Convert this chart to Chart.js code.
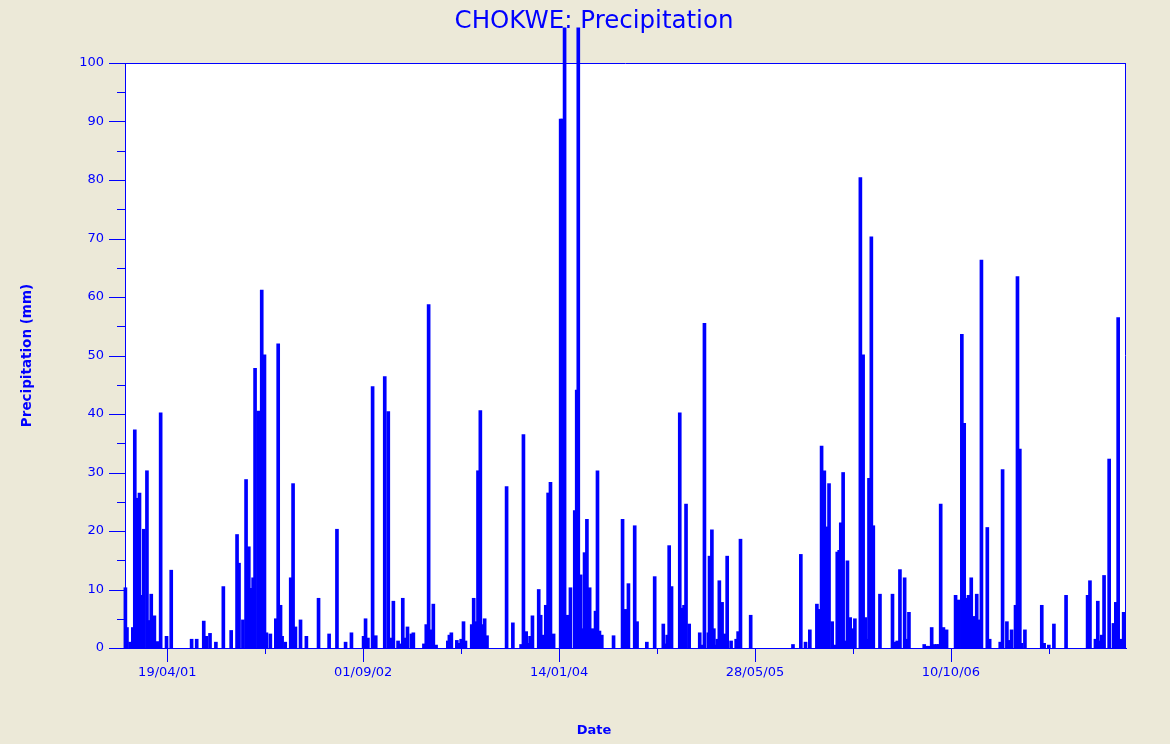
<!DOCTYPE html>
<html>
<head>
<meta charset="utf-8">
<script src="https://cdn.jsdelivr.net/npm/chart.js@4.4.0/dist/chart.umd.min.js"></script>
<style>
html, body { margin: 0; padding: 0; background: #ECE9D8; }
</style>
</head>
<body>
<canvas id="graf" width="1170" height="744"></canvas>
<script>
// dias contados a partir de 01/01/2001 (dia 0)
var dias = [1,5,13,20,25,31,37,42,48,56,61,67,75,83,91,106,118,170,183,201,208,217,232,251,271,286,291,301,309,316,323,327,332,340,
  349,356,361,371,385,391,397,401,409,423,429,435,448,463,494,521,541,563,578,609,614,620,632,640,
  663,672,678,685,697,703,709,716,721,731,736,763,769,775,781,787,794,824,828,833,847,853,858,864,869,885,890,896,901,907,913,918,924,
  974,990,1011,1017,1024,1029,1034,1040,1056,1061,1067,1074,1080,1086,1094,1112,1116,1122,1130,1137,1148,1153,1157,1163,1169,1173,1179,1186,1193,1201,1206,1211,1217,1247,1270,1278,1285,
  1301,1307,1332,1352,1374,1380,1384,1389,1395,1416,1422,1427,1432,1440,1467,1472,1479,1489,1492,1498,1503,1508,1512,1517,1524,1530,1537,1547,1560,1565,1571,1597,
  1705,1725,1737,1748,1766,1771,1778,1785,1791,1797,1805,1812,1818,1823,1827,1833,1838,1844,1851,1857,1863,1877,1884,1890,1895,1899,1905,1910,
  1927,1959,1965,1971,1978,1990,1996,2001,2040,2046,2052,2059,2066,2072,2077,2082,2089,2097,2120,2128,2136,2142,2147,2153,2160,2167,2174,2180,2186,2201,2207,2234,2240,
  2251,2257,2263,2273,2278,2284,2288,2297,2340,2346,2358,2371,2402,2457,2463,2477,2483,2489,2493,2499,2512,2523,2529,2535,2541,2549];
// precipitacao (mm)
var chuva = [10.3,3.5,1,3.5,37.3,25.6,26.5,9,20.3,30.3,4.7,9.2,5.5,1.1,40.2,2,13.3,1.5,1.5,4.6,2,2.5,1,10.5,3,19.4,14.5,4.8,28.8,17.3,10.2,12,47.8,40.5,
  61.2,50.1,2.6,2.4,5,52,7.3,2,1,12,28.1,3.6,4.8,2,8.5,2.4,20.3,1,2.6,2,5,1.7,44.7,2.1,
  46.4,40.4,1.7,8,1.2,0.7,8.5,1.7,3.6,2.4,2.6,0.7,4,58.7,3.1,7.5,0.5,1.2,2.2,2.6,1.3,0.8,1.5,4.5,1.2,4,8.5,4.5,30.3,40.6,4,5,2.1,
  27.6,4.3,0.6,36.5,2.8,0.8,2,5.5,10,5.6,2.2,7.3,26.5,28.3,2.4,90.4,90.4,106,5.6,10.3,23.5,44.1,106,12.5,3.3,16.3,22,10.3,3.3,6.3,30.3,2.9,2.2,2.1,22,6.6,11,
  20.9,4.5,1,12.2,4.1,0.7,2.2,17.5,10.5,40.2,6.8,7.3,24.6,4.1,2.6,0.5,55.5,2.6,15.7,20.2,3.3,0.5,1.5,11.5,7.8,2.4,15.7,1.2,1.5,2.8,18.6,5.6,
  0.6,16,1,3.1,7.5,6.6,34.5,30.3,20.7,28.1,4.5,0.5,16.4,16.7,21.4,30,1.2,14.9,5.2,3.3,5,80.4,50.1,5.2,1.5,29,70.3,20.9,
  9.2,9.2,1,1.2,13.4,12,1.5,6.1,0.6,0.3,0.3,3.5,0.6,0.6,0.6,24.6,3.5,3.1,9,8.2,53.6,38.4,8.5,9,12,5.4,9.2,4.8,66.3,20.6,1.5,1,30.5,
  4.5,1.3,3.1,7.3,63.5,34,0.8,3.1,7.3,0.8,0.5,4.1,9,9,11.5,1.5,8,1.2,2.2,12.4,32.3,4.2,7.8,56.5,1.5,6.1];

// marcas do eixo x (principais com texto, secundarias sem)
var diasMarcas = [108, 608, 1108, 1608, 2108];
var textoMarcas = ['19/04/01', '01/09/02', '14/01/04', '28/05/05', '10/10/06'];
var diasMarcasMenores = [358, 858, 1358, 1858, 2358];

var titulo = 'CHOKWE: Precipitation';
var tituloX = 'Date';
var tituloY = 'Precipitation (mm)';

var azul = '#0000FF';
var fonte = 'DejaVu Sans';

var pontos = dias.map(function(d, i) { return { x: d, y: chuva[i] }; });

//fundo bege, area branca, titulos, moldura e tracinhos dos eixos
var moldura = {
  id: 'moldura',
  beforeDraw: function(chart) {
    var c = chart.ctx, a = chart.chartArea;
    c.save();
    c.fillStyle = '#ECE9D8';
    c.fillRect(0, 0, chart.width, chart.height);
    c.fillStyle = '#FFFFFF';
    c.fillRect(a.left, a.top, a.right - a.left, a.bottom - a.top);
    c.restore();
  },
  beforeDatasetsDraw: function(chart) {
    var c = chart.ctx;
    c.save();
    c.fillStyle = azul;
    c.textAlign = 'center';
    c.textBaseline = 'middle';
    c.font = '24.5px "' + fonte + '"';
    c.fillText(titulo, 594, 22);
    c.font = 'bold 13px "' + fonte + '"';
    c.fillText(tituloX, 594, 731);
    c.restore();
  },
  afterDraw: function(chart) {
    var c = chart.ctx, a = chart.chartArea;
    var sx = chart.scales.x, sy = chart.scales.y;
    c.save();
    c.strokeStyle = azul;
    c.lineWidth = 1;
    c.beginPath();
    c.moveTo(a.left, a.top + 0.5); c.lineTo(a.right, a.top + 0.5);
    c.moveTo(a.right - 0.5, a.top); c.lineTo(a.right - 0.5, a.bottom);
    for (var v = 0; v <= 100; v += 5) {
      var y = Math.round(sy.getPixelForValue(v)) + 0.5;
      var len = (v % 10 === 0) ? 16 : 8;
      c.moveTo(a.left - len, y); c.lineTo(a.left, y);
    }
    diasMarcas.forEach(function(d) {
      var x = Math.round(sx.getPixelForValue(d)) + 0.5;
      c.moveTo(x, a.bottom); c.lineTo(x, a.bottom + 14);
    });
    diasMarcasMenores.forEach(function(d) {
      var x = Math.round(sx.getPixelForValue(d)) + 0.5;
      c.moveTo(x, a.bottom); c.lineTo(x, a.bottom + 6);
    });
    c.stroke();
    c.restore();
  }
};

var ctx = document.getElementById('graf');
var graf = new Chart(ctx, {
  type: 'bar',
  data: {
    datasets: [{
      data: pontos,
      backgroundColor: azul,
      borderWidth: 0,
      barThickness: 3,
      clip: false
    }]
  },
  options: {
    responsive: false,
    animation: false,
    layout: { padding: { left: 0, right: 44, top: 63, bottom: 0 } },
    plugins: {
      legend: { display: false },
      tooltip: { enabled: false },
      title: { display: false }
    },
    scales: {
      x: {
        type: 'linear',
        min: 0,
        max: 2555,
        offset: false,
        grid: { display: false, drawTicks: false },
        border: { display: true, color: azul, width: 1 },
        afterBuildTicks: function(s) {
          s.ticks = diasMarcas.map(function(d) { return { value: d }; });
        },
        afterFit: function(s) { s.height = 96; },
        ticks: {
          color: azul,
          font: { family: fonte, size: 13 },
          padding: 17,
          autoSkip: false,
          maxRotation: 0,
          callback: function(value) {
            var i = diasMarcas.indexOf(value);
            return i >= 0 ? textoMarcas[i] : '';
          }
        }
      },
      y: {
        min: 0,
        max: 100,
        grid: { display: false, drawTicks: false },
        border: { display: true, color: azul, width: 1 },
        afterFit: function(s) { s.width = 125; },
        ticks: {
          stepSize: 10,
          color: azul,
          font: { family: fonte, size: 13 },
          padding: 21
        },
        title: {
          display: true,
          text: tituloY,
          color: azul,
          font: { family: fonte, size: 13.5, weight: 'bold' },
          padding: { top: 19, bottom: 0 }
        }
      }
    }
  },
  plugins: [moldura]
});
</script>
</body>
</html>
